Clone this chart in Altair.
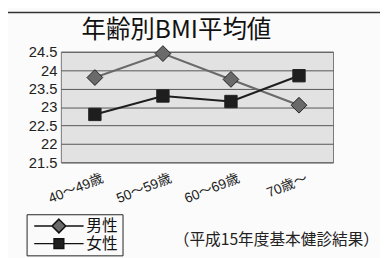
import altair as alt
import pandas as pd

categories = ["40～49歳", "50～59歳", "60～69歳", "70歳～"]
series_names = ["男性", "女性"]
male = [23.8, 24.45, 23.75, 23.05]
female = [22.8, 23.3, 23.15, 23.85]
y_ticks = [21.5, 22, 22.5, 23, 23.5, 24, 24.5]
title_text = "年齢別BMI平均値"
note_text = "（平成15年度基本健診結果）"

rows = []
for name, vals in zip(series_names, [male, female]):
    for c, v in zip(categories, vals):
        rows.append({"age": c, "bmi": v, "series": name})
df = pd.DataFrame(rows)
note_df = pd.DataFrame({"t": [note_text], "title": [title_text]})

W, H = 278, 113
PL, PT = 54, 42
TOTAL_W, TOTAL_H = 380, 250
OX, OY = PL + 8, PT + 8  # plot-area origin in page pixels

NUM_FONT = "Liberation Sans, Noto Sans CJK JP"
CJK_FONT = "Noto Sans CJK JP"

color_scale = alt.Scale(domain=series_names, range=["#6a6a6a", "#1e1e1e"])

x_enc = alt.X(
    "age:N", sort=categories, title=None,
    axis=alt.Axis(labelAngle=-22, labelFontSize=14, labelFont=NUM_FONT,
                  labelColor="#222", ticks=False, domain=False, labelPadding=9,
                  labelOffset=5, labelAlign="right", labelBaseline="top"),
)
y_enc = alt.Y(
    "bmi:Q", title=None,
    scale=alt.Scale(domain=[21.5, 24.5], nice=False, zero=False),
    axis=alt.Axis(values=y_ticks, format="~g", labelFontSize=15, labelFont=NUM_FONT,
                  labelColor="#222", ticks=False, domain=False, labelPadding=4,
                  grid=True, gridColor="#555", gridWidth=1),
)

base = alt.Chart(df)

lines = base.mark_line(strokeWidth=2.2).encode(
    x=x_enc, y=y_enc, detail="series:N",
    color=alt.Color("series:N", scale=color_scale, legend=None),
)

points = base.mark_point(filled=True, opacity=1, stroke="#222", strokeWidth=1).encode(
    x=x_enc, y=y_enc,
    color=alt.Color("series:N", scale=color_scale, legend=None),
    shape=alt.Shape("series:N", scale=alt.Scale(domain=series_names, range=["diamond", "square"]), legend=None),
    size=alt.Size("series:N", scale=alt.Scale(domain=series_names, range=[260, 160]), legend=None),
)

male_path = "M-3.6,0H-1M0,-1L1,0L0,1L-1,0ZM1,0H3.6"
female_path = "M-3.6,0H-0.71M-0.71,-0.71H0.71V0.71H-0.71ZM0.71,0H3.6"

legend_layer = base.transform_filter("false").mark_point(filled=True, opacity=1).encode(
    x=x_enc, y=y_enc,
    color=alt.Color("series:N", scale=color_scale,
                    legend=alt.Legend(title=None)),
    shape=alt.Shape(
        "series:N",
        scale=alt.Scale(domain=series_names, range=[male_path, female_path]),
        legend=alt.Legend(
            title=None, orient="none", legendX=27 - OX, legendY=216 - OY,
            direction="vertical",
            labelFont=CJK_FONT, labelFontSize=16, labelColor="#111",
            symbolSize=196, symbolStrokeColor="#111", symbolStrokeWidth=1.5,
            symbolOffset=21, labelOffset=20, rowPadding=0, padding=4,
            strokeColor="#222", fillColor="#fafafa",
        ),
    ),
)

note = alt.Chart(note_df).mark_text(
    align="right", baseline="middle", fontSize=16, font=CJK_FONT, color="#222"
).encode(text="t:N", x=alt.value(387 - OX), y=alt.value(242 - OY))

title = alt.Chart(note_df).mark_text(
    align="center", baseline="middle", fontSize=25, font=CJK_FONT, color="#111"
).encode(text="title:N", x=alt.value(180 - OX), y=alt.value(28 - OY))

frame = alt.Chart(note_df).mark_rect(
    fillOpacity=0, stroke="#333", strokeWidth=1.5
).encode(x=alt.value(7 - OX), y=alt.value(10 - OY), x2=alt.value(400), y2=alt.value(300))

chart = alt.layer(frame, lines, points, legend_layer, note, title).resolve_scale(
    color="independent", shape="independent", size="independent"
).properties(
    width=W, height=H,
    autosize=alt.AutoSizeParams(type="none"),
    padding={"left": PL, "top": PT, "right": TOTAL_W - PL - W, "bottom": TOTAL_H - PT - H},
    background="#fbfbfb",
).configure_view(stroke="#777", fill="#e2e2e2")

chart.save("out.html", embed_options={"renderer": "svg", "actions": False})
